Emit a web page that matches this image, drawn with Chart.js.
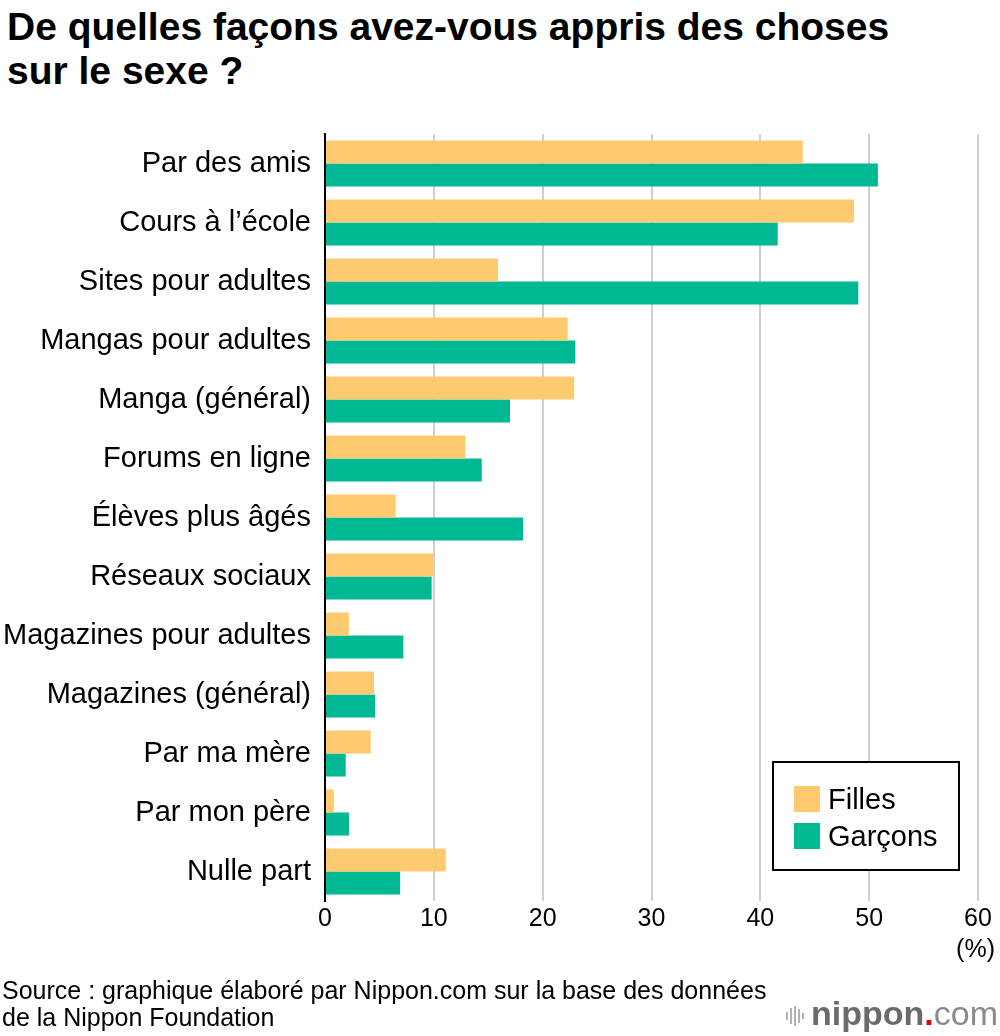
<!DOCTYPE html>
<html>
<head>
<meta charset="utf-8">
<script src="https://cdn.jsdelivr.net/npm/chart.js@4.4.1/dist/chart.umd.min.js"></script>
<style>
  html, body { margin: 0; padding: 0; background: #fff; }
  body { width: 1000px; height: 1036px; position: relative; overflow: hidden; font-family: "Liberation Sans", Arial, sans-serif; color: #000; }
  #title { position: absolute; left: 7px; top: 5px; font-weight: bold; font-size: 39px; line-height: 44px; white-space: nowrap; }
  #wrap { position: absolute; left: 0; top: 0; width: 1000px; height: 1036px; }
  #pct { position: absolute; right: 5px; top: 933px; font-size: 25px; line-height: 30px; }
  #source { position: absolute; left: 2px; top: 977px; font-size: 25px; line-height: 27px; white-space: nowrap; }
  #logo { position: absolute; right: 2px; top: 993px; font-size: 34px; line-height: 40px; color: #6b6b6b; }
  #logo b { font-weight: bold; }
  #logo .dot { color: #e60012; font-weight: bold; }
  #logo .com { font-weight: normal; color: #8a8a8a; }
  #logo .bars { display: inline-block; vertical-align: middle; margin-right: 6px; }
</style>
</head>
<body>
<div id="title">De quelles façons avez-vous appris des choses<br>sur le sexe ?</div>
<div id="wrap"><canvas id="c"></canvas></div>
<div id="pct">(%)</div>
<div id="source">Source : graphique élaboré par Nippon.com sur la base des données<br>de la Nippon Foundation</div>
<div id="logo"><svg class="bars" width="20" height="24" viewBox="0 0 20 24"><g stroke="#9a9a9a" stroke-width="1.5"><line x1="2" y1="8" x2="2" y2="16"/><line x1="6" y1="4" x2="6" y2="20"/><line x1="10" y1="2" x2="10" y2="22"/><line x1="14" y1="5" x2="14" y2="19"/><line x1="18" y1="9" x2="18" y2="15"/></g></svg><b>nippon</b><span class="dot">.</span><span class="com">com</span></div>
<script>
const categories = [
  "Par des amis", "Cours à l’école", "Sites pour adultes", "Mangas pour adultes",
  "Manga (général)", "Forums en ligne", "Élèves plus âgés", "Réseaux sociaux",
  "Magazines pour adultes", "Magazines (général)", "Par ma mère", "Par mon père", "Nulle part"
];
const filles  = [43.9, 48.6, 15.9, 22.3, 22.9, 12.9, 6.5, 10.0, 2.2, 4.5, 4.2, 0.8, 11.1];
const garcons = [50.8, 41.6, 49.0, 23.0, 17.0, 14.4, 18.2, 9.8, 7.2, 4.6, 1.9, 2.2, 6.9];
const seriesNames = ["Filles", "Garçons"];
const xTicks = [0, 10, 20, 30, 40, 50, 60];

const colFilles = "#FDCA6F";
const colGarcons = "#00B894";
const FONT = "'Liberation Sans', Arial, sans-serif";

const legendBox = {
  id: "legendBox",
  afterDraw(chart) {
    const ctx = chart.ctx;
    ctx.save();
    const x = 773, y = 762, w = 186, h = 108;
    ctx.fillStyle = "#fff";
    ctx.fillRect(x, y, w, h);
    ctx.strokeStyle = "#000";
    ctx.lineWidth = 2;
    ctx.strokeRect(x, y, w, h);
    chart.data.datasets.forEach((ds, i) => {
      const sy = 786 + i * 37;
      ctx.fillStyle = ds.backgroundColor;
      ctx.fillRect(794, sy, 26, 26);
      ctx.fillStyle = "#000";
      ctx.font = "29px " + FONT;
      ctx.textBaseline = "middle";
      ctx.textAlign = "left";
      ctx.fillText(ds.label, 828, sy + 15);
    });
    ctx.restore();
  }
};

new Chart(document.getElementById("c"), {
  type: "bar",
  data: {
    labels: categories,
    datasets: [
      { label: seriesNames[0], data: filles, backgroundColor: colFilles },
      { label: seriesNames[1], data: garcons, backgroundColor: colGarcons }
    ]
  },
  options: {
    indexAxis: "y",
    responsive: true,
    maintainAspectRatio: false,
    animation: false,
    devicePixelRatio: 1,
    categoryPercentage: 0.78,
    barPercentage: 1.0,
    layout: { padding: { left: 0, right: 22, top: 134, bottom: 95 } },
    plugins: { legend: { display: false }, tooltip: { enabled: false }, title: { display: false } },
    scales: {
      x: {
        min: 0, max: 60,
        afterBuildTicks(scale) { scale.ticks = xTicks.map(v => ({ value: v })); },
        afterFit(scale) { scale.height = 40; },
        grid: {
          color: ctx => (ctx.tick && ctx.tick.value === 0) ? "rgba(0,0,0,0)" : "#cfcfcf",
          lineWidth: 2,
          drawTicks: false
        },
        border: { display: false },
        ticks: { color: "#000", font: { family: FONT, size: 25 }, padding: 3, maxRotation: 0 }
      },
      y: {
        afterFit(scale) { scale.width = 325; },
        grid: { display: false, drawTicks: false },
        border: { display: true, color: "#000", width: 2 },
        ticks: { color: "#000", font: { family: FONT, size: 29 }, padding: 14, autoSkip: false }
      }
    }
  },
  plugins: [legendBox]
});
</script>
</body>
</html>
